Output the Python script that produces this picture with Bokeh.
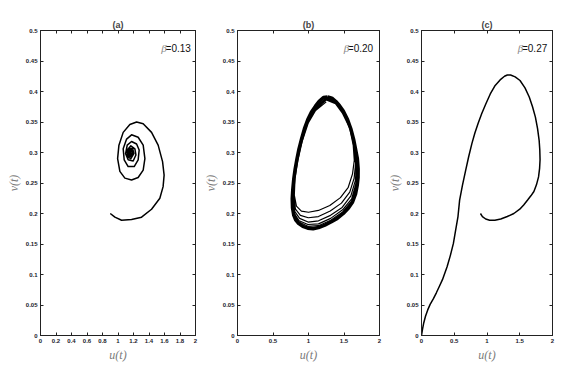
from bokeh.plotting import figure
from bokeh.layouts import row
from bokeh.models import Range1d, FixedTicker, LinearAxis, Label
from bokeh.embed import file_html
from bokeh.resources import INLINE

# ---------------- data ----------------
titles = ["(a)", "(b)", "(c)"]
beta_texts = ["=0.13", "=0.20", "=0.27"]

y_ticks = [0, 0.05, 0.1, 0.15, 0.2, 0.25, 0.3, 0.35, 0.4, 0.45, 0.5]
y_tick_labels = ["0", "0.05", "0.1", "0.15", "0.2", "0.25", "0.3", "0.35", "0.4", "0.45", "0.5"]
xa_ticks = [0, 0.2, 0.4, 0.6, 0.8, 1, 1.2, 1.4, 1.6, 1.8, 2]
xa_tick_labels = ["0", "0.2", "0.4", "0.6", "0.8", "1", "1.2", "1.4", "1.6", "1.8", "2"]
xbc_ticks = [0, 0.5, 1, 1.5, 2]
xbc_tick_labels = ["0", "0.5", "1", "1.5", "2"]

# panel (a): beta = 0.13, spiral into the equilibrium
a_u = [0.90, 0.96, 1.046, 1.175, 1.304, 1.433, 1.54, 1.582, 1.595, 1.575, 1.518, 1.433,
       1.325, 1.24, 1.153, 1.067, 1.012, 0.995, 1.024, 1.089, 1.175, 1.26, 1.325, 1.347,
       1.325, 1.26, 1.175, 1.111, 1.067, 1.08, 1.131, 1.209, 1.26, 1.273, 1.24, 1.175,
       1.119, 1.098, 1.131, 1.196, 1.231, 1.218, 1.166, 1.12, 1.12, 1.166, 1.205, 1.19,
       1.153, 1.127, 1.14, 1.185, 1.19, 1.166, 1.14, 1.147, 1.18, 1.18, 1.16, 1.153,
       1.17, 1.165]
a_v = [0.200, 0.194, 0.189, 0.190, 0.194, 0.207, 0.225, 0.244, 0.263, 0.285, 0.312, 0.333,
       0.347, 0.350, 0.346, 0.333, 0.312, 0.290, 0.269, 0.258, 0.255, 0.259, 0.271, 0.290,
       0.312, 0.325, 0.329, 0.322, 0.306, 0.288, 0.277, 0.277, 0.288, 0.304, 0.314, 0.318,
       0.312, 0.298, 0.288, 0.286, 0.296, 0.306, 0.311, 0.304, 0.293, 0.290, 0.298, 0.306,
       0.307, 0.301, 0.293, 0.294, 0.301, 0.305, 0.302, 0.296, 0.296, 0.301, 0.303, 0.299,
       0.297, 0.300]

# panel (b): beta = 0.20, transient loops winding onto the limit cycle
b_u = [1.25, 1.10, 0.995, 0.91, 0.85, 0.81, 0.80, 0.83, 0.90, 1.00, 1.14, 1.30, 1.45, 1.56, 1.62, 1.645, 1.63, 1.58, 1.48, 1.38,
       1.250, 1.099, 0.993, 0.907, 0.845, 0.804, 0.790, 0.817, 0.886, 0.997, 1.140, 1.306, 1.464, 1.581, 1.643, 1.664, 1.642, 1.587, 1.484, 1.381,
       1.251, 1.099, 0.992, 0.905, 0.842, 0.800, 0.783, 0.808, 0.875, 0.994, 1.141, 1.310, 1.474, 1.597, 1.660, 1.677, 1.650, 1.591, 1.486, 1.381,
       1.251, 1.098, 0.991, 0.904, 0.840, 0.797, 0.777, 0.801, 0.868, 0.992, 1.141, 1.312, 1.481, 1.608, 1.671, 1.687, 1.657, 1.595, 1.488, 1.382,
       1.251, 1.098, 0.991, 0.903, 0.838, 0.795, 0.774, 0.797, 0.863, 0.991, 1.141, 1.314, 1.486, 1.615, 1.679, 1.694, 1.661, 1.597, 1.489, 1.382,
       1.251]
b_v = [0.383, 0.369, 0.348, 0.318, 0.287, 0.257, 0.230, 0.212, 0.204, 0.202, 0.205, 0.213, 0.226, 0.243, 0.265, 0.287, 0.312, 0.340, 0.364, 0.380,
       0.386, 0.371, 0.350, 0.319, 0.288, 0.257, 0.228, 0.207, 0.197, 0.193, 0.195, 0.204, 0.217, 0.235, 0.258, 0.282, 0.310, 0.339, 0.365, 0.381,
       0.388, 0.373, 0.352, 0.320, 0.288, 0.257, 0.226, 0.203, 0.192, 0.186, 0.188, 0.197, 0.210, 0.229, 0.254, 0.279, 0.308, 0.339, 0.366, 0.382,
       0.389, 0.374, 0.353, 0.321, 0.289, 0.257, 0.225, 0.200, 0.188, 0.182, 0.183, 0.192, 0.206, 0.224, 0.250, 0.276, 0.307, 0.338, 0.367, 0.383,
       0.390, 0.375, 0.353, 0.322, 0.289, 0.257, 0.225, 0.199, 0.186, 0.179, 0.180, 0.189, 0.203, 0.221, 0.248, 0.275, 0.306, 0.338, 0.368, 0.384,
       0.391]
b_cycle_u = [1.27, 1.21, 1.15, 1.098, 1.04, 0.990, 0.943, 0.902, 0.866, 0.837, 0.812, 0.793, 0.779, 0.771, 0.775,
             0.793, 0.822, 0.859, 0.92, 0.990, 1.065, 1.141, 1.23, 1.316, 1.405, 1.490, 1.563, 1.621, 1.663,
             1.686, 1.698, 1.699, 1.688, 1.664, 1.635, 1.599, 1.55, 1.490, 1.435, 1.382, 1.33, 1.27]
b_cycle_v = [0.391, 0.390, 0.384, 0.376, 0.366, 0.354, 0.339, 0.322, 0.306, 0.289, 0.273, 0.257, 0.240, 0.224, 0.209,
             0.197, 0.189, 0.184, 0.179, 0.176, 0.175, 0.177, 0.181, 0.186, 0.192, 0.200, 0.209, 0.219, 0.232,
             0.246, 0.259, 0.273, 0.290, 0.305, 0.322, 0.338, 0.354, 0.368, 0.377, 0.384, 0.389, 0.391]

# panel (c): beta = 0.27, trajectory going to the origin
c_u = [0.90, 0.93, 0.98, 1.04, 1.12, 1.21, 1.31, 1.41, 1.50, 1.56, 1.62, 1.67, 1.716, 1.755, 1.787,
       1.803, 1.81, 1.806, 1.796, 1.772, 1.739, 1.695, 1.645, 1.58, 1.504, 1.43, 1.36, 1.31, 1.267,
       1.20, 1.125, 1.05, 0.983, 0.92, 0.865, 0.815, 0.77, 0.72, 0.675, 0.625, 0.582, 0.557, 0.52,
       0.487, 0.44, 0.392, 0.32, 0.27, 0.227, 0.18, 0.132, 0.095, 0.061, 0.035, 0.015, 0.0]
c_v = [0.200, 0.195, 0.191, 0.189, 0.189, 0.191, 0.195, 0.200, 0.207, 0.214, 0.222, 0.229, 0.236, 0.247, 0.260,
       0.274, 0.288, 0.304, 0.320, 0.339, 0.358, 0.375, 0.391, 0.406, 0.418, 0.424, 0.427, 0.427, 0.425,
       0.419, 0.410, 0.396, 0.380, 0.364, 0.348, 0.332, 0.315, 0.293, 0.271, 0.246, 0.222, 0.195, 0.172,
       0.151, 0.131, 0.113, 0.0915, 0.080, 0.070, 0.060, 0.051, 0.042, 0.0315, 0.021, 0.010, 0.0]

# ---------------- figure helpers ----------------
H = 364
SANS = "Liberation Sans"
SERIF = "Liberation Serif"


def make_panel(title, xticks, xlabels, width, left, top, beta_txt, beta_x):
    p = figure(width=width, height=H, x_range=Range1d(0, 2), y_range=Range1d(0, 0.5),
               output_backend="svg", toolbar_location=None,
               min_border_left=left, min_border_right=5, min_border_top=top, min_border_bottom=28)
    p.grid.visible = False
    p.outline_line_color = "#222222"
    p.title.text = title
    p.title.align = "center"
    p.title.text_font = SANS
    p.title.text_font_size = "9px"
    p.title.text_font_style = "bold"
    p.title.standoff = 2
    p.title.offset = 0

    p.xaxis.ticker = FixedTicker(ticks=xticks)
    p.xaxis.major_label_overrides = {t: l for t, l in zip(xticks, xlabels)}
    p.yaxis.ticker = FixedTicker(ticks=y_ticks)
    p.yaxis.major_label_overrides = {t: l for t, l in zip(y_ticks, y_tick_labels)}
    p.xaxis.axis_label = "u(t)"
    p.yaxis.axis_label = "v(t)"
    for ax in (p.xaxis[0], p.yaxis[0]):
        ax.axis_line_color = "#222222"
        ax.major_tick_line_color = "#222222"
        ax.major_tick_in = 3
        ax.major_tick_out = 0
        ax.minor_tick_line_color = None
        ax.major_label_text_font = SANS
        ax.major_label_text_font_size = "6px"
        ax.major_label_text_font_style = "bold"
        ax.major_label_text_color = "#1a1a2a"
        ax.major_label_standoff = 3
        ax.axis_label_text_font = SERIF
        ax.axis_label_text_font_style = "italic"
        ax.axis_label_text_font_size = "12px"
        ax.axis_label_text_color = "#7a7a7a"
        ax.axis_label_standoff = 2

    # box ticks on the top and right edges (no labels)
    for loc, tk in (("right", y_ticks), ("above", xticks)):
        ax = LinearAxis(ticker=FixedTicker(ticks=tk), major_label_text_font_size="0px",
                        major_label_text_color=None,
                        major_label_standoff=0, major_tick_in=3, major_tick_out=0,
                        minor_tick_line_color=None, axis_line_color="#222222",
                        major_tick_line_color="#222222")
        p.add_layout(ax, loc)

    p.add_layout(Label(x=beta_x, y=0.471, text=beta_txt, text_align="right", text_baseline="middle",
                       text_font=SANS, text_font_size="10px", text_color="#111111"))
    p.add_layout(Label(x=beta_x, y=0.471, x_offset=-24, text="β", text_align="right",
                       text_baseline="middle", text_font=SERIF, text_font_style="italic",
                       text_font_size="11px", text_color="#888888"))
    return p


pa = make_panel(titles[0], xa_ticks, xa_tick_labels, 200, 40, 27, beta_texts[0], 1.94)
pa.line(a_u, a_v, line_color="black", line_width=1.5, line_join="round")

pb = make_panel(titles[1], xbc_ticks, xbc_tick_labels, 184, 26, 28, beta_texts[1], 1.91)
pb.line(b_u, b_v, line_color="black", line_width=1.2, line_join="round")
pb.line(b_cycle_u, b_cycle_v, line_color="black", line_width=3.5, line_join="round")

pc = make_panel(titles[2], xbc_ticks, xbc_tick_labels, 173, 27, 30, beta_texts[2], 1.92)
pc.line(c_u, c_v, line_color="black", line_width=1.5, line_join="round")

layout = row(pa, pb, pc)
open("out.html", "w").write(file_html(layout, INLINE))
